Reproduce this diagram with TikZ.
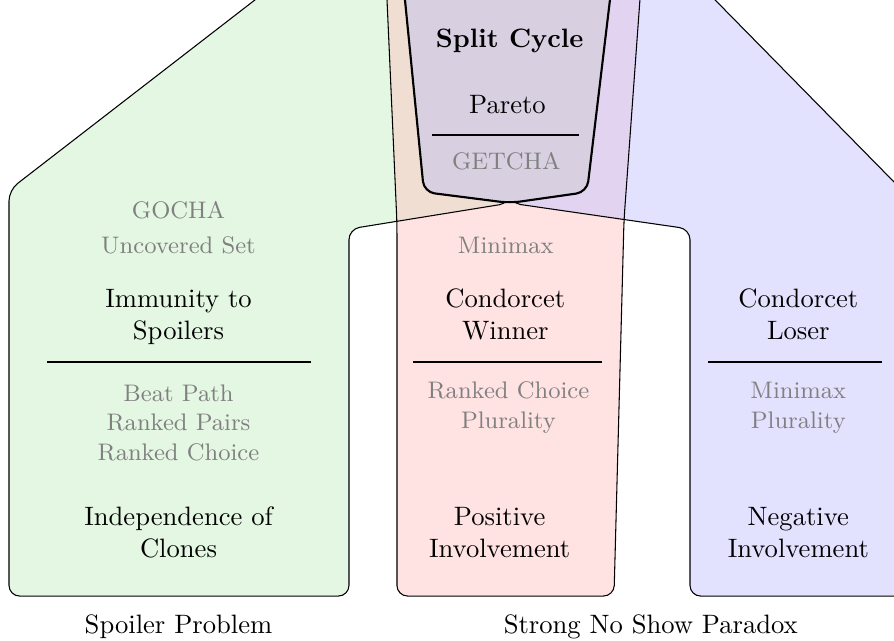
\documentclass[tikz,border=0pt]{standalone}
\usepackage{tikz}
\definecolor{spoilgreen}{RGB}{199,239,199}
\definecolor{winred}{RGB}{255,197,197}
\definecolor{loseblue}{RGB}{197,197,255}
\definecolor{splitgray}{RGB}{216,207,224}
\tikzset{
    region/.style={rounded corners=4pt},
    tint/.style={region,fill opacity=.5},
    rule/.style={thick},
    lbl/.style={anchor=base,align=center,inner sep=0pt},
    weak/.style={lbl,font=\small,text=gray}
}
\newcommand{\spoilpath}{(4.02,8.96) -- (0.119,5.944) -- (0.119,0.581) -- (4.610,0.581) -- (4.610,5.429) -- (6.737,5.773) -- (6.737,8.96) -- cycle}
\newcommand{\winpath}{(5.090,8.96) -- (5.244,5.509) -- (5.244,0.581) -- (8.111,0.581) -- (8.243,5.548) -- (8.490,8.96) -- cycle}
\newcommand{\losepath}{(8.951,8.96) -- (12.8,5.044) -- (12.8,0.581) -- (9.115,0.581) -- (9.115,5.429) -- (6.737,5.773) -- (6.737,8.96) -- cycle}
\newcommand{\splitpath}{(5.300,8.96) -- (5.601,5.918) -- (6.737,5.773) -- (7.754,5.918) -- (8.118,8.96) -- cycle}

\begin{document}
\begin{tikzpicture}
\useasboundingbox (0,0) rectangle (11.81,8.455);
\clip (0,0) rectangle (11.81,8.455);

\fill[tint,spoilgreen] \spoilpath;
\fill[tint,winred] \winpath;
\fill[tint,loseblue] \losepath;
\draw[region] \spoilpath;
\draw[region] \winpath;
\draw[region] \losepath;
\draw[region,thick,fill=splitgray] \splitpath;

\node[lbl,font=\bfseries] (split) at (6.733,7.834) {Split Cycle};
\node[lbl] (pareto) at (6.704,6.949) {Pareto};
\node[weak] (getcha) at (6.688,6.222) {GETCHA};
\coordinate (splitL) at (5.707,6.671);
\coordinate (splitR) at (7.649,6.671);
\draw[rule] (splitL) -- (splitR);

\node[weak] (gocha) at (2.358,5.562) {GOCHA};
\node[weak] (uncovered) at (2.358,5.112) {Uncovered Set};
\node[lbl] (immunity) at (2.358,3.976) {Immunity to\\Spoilers};
\node[weak] (clonemeth) at (2.358,2.378) {Beat Path\\Ranked Pairs\\Ranked Choice};
\node[lbl] (clones) at (2.358,1.096) {Independence of\\Clones};
\node[lbl] (spoiler) at (2.358,0.0925) {Spoiler Problem};
\coordinate (spoilL) at (0.621,3.672);
\coordinate (spoilR) at (4.108,3.672);
\draw[rule] (spoilL) -- (spoilR);

\node[weak] (minimax) at (6.682,5.112) {Minimax};
\node[lbl] (cwinner) at (6.675,3.976) {Condorcet\\Winner};
\node[weak] (winmeth) at (6.717,2.801) {Ranked Choice\\Plurality};
\node[lbl] (posinv) at (6.600,1.096) {Positive\\Involvement};
\coordinate (winL) at (5.456,3.672);
\coordinate (winR) at (7.952,3.672);
\draw[rule] (winL) -- (winR);

\node[lbl] (closer) at (10.546,3.976) {Condorcet\\Loser};
\node[weak] (losemeth) at (10.546,2.801) {Minimax\\Plurality};
\node[lbl] (neginv) at (10.546,1.096) {Negative\\Involvement};
\coordinate (loseL) at (9.353,3.672);
\coordinate (loseR) at (11.651,3.672);
\draw[rule] (loseL) -- (loseR);

\node[lbl] (noshow) at (8.597,0.0925) {Strong No Show Paradox};
\end{tikzpicture}
\end{document}
